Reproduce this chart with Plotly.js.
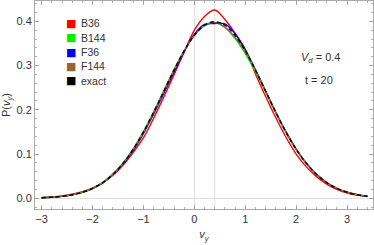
<!DOCTYPE html>
<html><head><meta charset="utf-8">
<script src="https://cdn.plot.ly/plotly-3.0.1.min.js"></script>
<style>html,body{margin:0;padding:0;background:#fff}#c{width:374px;height:245px}</style>
</head><body><div id="c"></div>
<script>
const vy = [-3.0,-2.8,-2.6,-2.4,-2.2,-2.0,-1.8,-1.6,-1.4,-1.2,-1.0,-0.8,-0.6,-0.4,-0.2,0.0,0.2,0.4,0.6,0.8,1.0,1.2,1.4,1.6,1.8,2.0,2.2,2.4,2.6,2.8,3.0,3.2,3.4];
const B36 = [0.0015,0.0030,0.0055,0.0092,0.0148,0.0230,0.0350,0.0520,0.0750,0.1040,0.1370,0.1810,0.2290,0.2790,0.3310,0.3800,0.4110,0.4255,0.4040,0.3730,0.3370,0.2810,0.2300,0.1820,0.1380,0.1000,0.0710,0.0490,0.0320,0.0200,0.0120,0.0072,0.0045];
const B144 = [0.0013,0.0025,0.0045,0.0080,0.0138,0.0228,0.0362,0.0552,0.0805,0.1125,0.1515,0.1955,0.2430,0.2905,0.3335,0.3680,0.3900,0.3965,0.3860,0.3610,0.3270,0.2860,0.2410,0.1940,0.1500,0.1112,0.0792,0.0542,0.0356,0.0225,0.0137,0.0080,0.0045];
const F36 = [0.0012,0.0023,0.0043,0.0078,0.0134,0.0221,0.0350,0.0530,0.0775,0.1085,0.1465,0.1905,0.2375,0.2850,0.3310,0.3710,0.3930,0.3950,0.3940,0.3720,0.3355,0.2910,0.2425,0.1945,0.1500,0.1112,0.0792,0.0542,0.0357,0.0226,0.0138,0.0081,0.0046];
const F144 = [0.0012,0.0024,0.0044,0.0079,0.0136,0.0224,0.0355,0.0540,0.0790,0.1108,0.1495,0.1940,0.2420,0.2897,0.3332,0.3683,0.3905,0.3975,0.3870,0.3640,0.3320,0.2895,0.2418,0.1940,0.1497,0.1109,0.0790,0.0540,0.0355,0.0224,0.0136,0.0079,0.0044];
const exact = [0.00123,0.00238,0.00443,0.00792,0.01358,0.02239,0.03547,0.05399,0.07895,0.11092,0.14973,0.19419,0.24197,0.28969,0.33322,0.36827,0.39104,0.39894,0.39104,0.36827,0.33322,0.28969,0.24197,0.19419,0.14973,0.11092,0.07895,0.05399,0.03547,0.02239,0.01358,0.00792,0.00443];
const names = ['B36','B144','F36','F144','exact'];
const colors = ['#ff0000','#00ee00','#0000ff','#996633','#000000'];
const series = [B36,B144,F36,F144,exact];
const Vd = 0.4, tval = 20;

const traces = series.map((s,i)=>({
  x: vy, y: s, type:'scatter', mode:'lines', name:names[i], showlegend:false,
  line:{color:colors[i], width:1.4, shape:'spline', dash: i===4 ? '4px,3px' : 'solid'}
}));

const L = 35, R = 1, T = 1, B = 36, W = 374, H = 245;
const pw = W-L-R, ph = H-T-B;
const px = x => (x-L)/pw, py = y => (H-B-y)/ph;

const ann = [];
names.forEach((n,i)=>{
  const yy = 23.5 + i*14.3;
  ann.push({xref:'paper',yref:'paper',x:px(71),y:py(yy),text:'■',showarrow:false,
    font:{family:'DejaVu Sans',size:11,color:colors[i]},xanchor:'center',yanchor:'middle'});
  ann.push({xref:'paper',yref:'paper',x:px(79),y:py(yy),text:n,showarrow:false,
    font:{family:'Liberation Sans',size:10.5,color:'#333'},xanchor:'left',yanchor:'middle'});
});
ann.push({xref:'paper',yref:'paper',x:px(320),y:py(58),text:'<i>V</i><sub><i>d</i></sub> = '+Vd,showarrow:false,
  font:{family:'Liberation Sans',size:11,color:'#333'},xanchor:'center',yanchor:'middle'});
ann.push({xref:'paper',yref:'paper',x:px(319),y:py(80),text:'t = '+tval,showarrow:false,
  font:{family:'Liberation Sans',size:11,color:'#333'},xanchor:'center',yanchor:'middle'});

const axcommon = {showgrid:false, mirror:'allticks', ticks:'inside', ticklen:4, tickwidth:0.8, tickcolor:'#999',
  showline:true, linecolor:'#aaa', linewidth:1, zeroline:true, zerolinecolor:'#ddd', zerolinewidth:1,
  tickfont:{family:'Liberation Sans',size:11,color:'#333'}};

const layout = {
  width:W, height:H, margin:{l:L,r:R,t:T,b:B}, paper_bgcolor:'#fff', plot_bgcolor:'#fff',
  xaxis: Object.assign({}, axcommon, {range:[-3.131,3.51], tickvals:[-3,-2,-1,0,1,2,3], ticktext:['−3','−2','−1','0','1','2','3'],
    minor:{dtick:0.2, ticks:'inside', ticklen:2, tickcolor:'#999', showgrid:false},
    title:{text:'<i>v</i><sub><i>y</i></sub>', standoff:6, font:{family:'Liberation Sans',size:11,color:'#333'}}}),
  yaxis: Object.assign({}, axcommon, {range:[-0.0242,0.4459], tickvals:[0,0.1,0.2,0.3,0.4], ticktext:['0.0','0.1','0.2','0.3','0.4'],
    minor:{dtick:0.02, ticks:'inside', ticklen:2, tickcolor:'#999', showgrid:false},
    title:{text:'P(<i>v</i><sub><i>y</i></sub>)', standoff:4, font:{family:'Liberation Sans',size:11,color:'#333'}}}),
  shapes:[{type:'line', xref:'x', yref:'paper', x0:Vd, x1:Vd, y0:0, y1:1, line:{color:'#ddd', width:1}, layer:'below'}],
  annotations: ann, showlegend:false
};
Plotly.newPlot('c', traces, layout, {staticPlot:true, displayModeBar:false});
</script></body></html>
